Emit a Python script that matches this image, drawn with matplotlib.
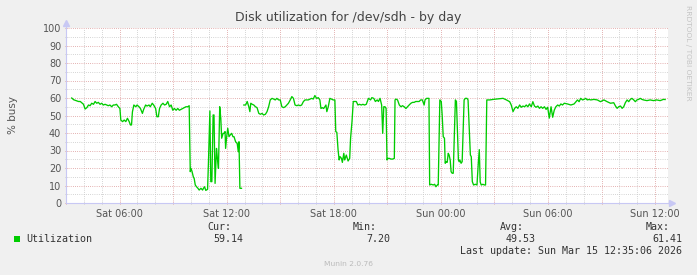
import numpy as np
import matplotlib
matplotlib.use("Agg")
import matplotlib.pyplot as plt

# hours since Sat 00:00
hours = [
    3.32, 3.43, 3.57, 3.70, 3.80, 3.91, 3.98, 4.07, 4.17, 4.26, 4.35, 4.44, 4.54, 4.63, 4.72, 4.81, 4.91, 5.00,
    5.09, 5.19, 5.28, 5.37, 5.46, 5.56, 5.65, 5.74, 5.83, 5.93, 6.02, 6.07, 6.17, 6.26, 6.35, 6.44, 6.54,
    6.61, 6.67, 6.72, 6.80, 6.91, 6.98, 7.09, 7.17, 7.28, 7.35, 7.46, 7.54, 7.65, 7.72, 7.83, 7.91, 8.02, 8.09,
    8.17, 8.24, 8.33, 8.43, 8.52, 8.61, 8.70, 8.80, 8.89, 8.98, 9.07, 9.17, 9.26, 9.35, 9.44, 9.54, 9.63, 9.72,
    9.82, 9.90,
    9.96, 10.00, 10.06, 10.13, 10.18, 10.24, 10.31, 10.39, 10.46, 10.56, 10.65, 10.70, 10.76, 10.83, 10.93,
    10.98, 11.06, 11.11, 11.17, 11.24, 11.29, 11.35, 11.43, 11.48, 11.54, 11.61, 11.67, 11.72, 11.80, 11.85,
    11.91, 11.94, 12.00, 12.06, 12.13, 12.20, 12.28, 12.35, 12.41, 12.50, 12.59, 12.65, 12.69, 12.74, 12.83,
    12.90,
    12.96, 13.06, 13.15, 13.24, 13.30, 13.35, 13.43, 13.52, 13.61, 13.70, 13.80, 13.89, 13.98, 14.07, 14.17,
    14.26, 14.35, 14.44, 14.54, 14.63, 14.72, 14.81, 14.91, 15.00, 15.09, 15.19, 15.28, 15.37, 15.46, 15.56,
    15.65, 15.74, 15.83, 15.93, 16.02, 16.11, 16.20, 16.30, 16.39, 16.48, 16.57,
    16.67, 16.76, 16.85, 16.94, 17.04, 17.13, 17.22, 17.28, 17.35, 17.43, 17.50, 17.56, 17.61, 17.69, 17.78,
    17.87, 17.96, 18.06, 18.11, 18.17, 18.24, 18.30, 18.35, 18.43, 18.48, 18.56, 18.61, 18.70, 18.80, 18.89,
    18.94, 19.02, 19.09, 19.17, 19.26, 19.35, 19.44, 19.54, 19.63, 19.72, 19.82,
    19.94, 20.06, 20.13, 20.24, 20.33, 20.43, 20.50, 20.59, 20.68, 20.74, 20.80, 20.87, 20.93, 20.98, 21.02,
    21.11, 21.20, 21.30, 21.39, 21.43, 21.48, 21.57, 21.67, 21.76, 21.85, 21.94, 22.04, 22.13, 22.22, 22.32,
    22.41, 22.50, 22.59, 22.69, 22.78, 22.87, 22.96, 23.06, 23.11, 23.20,
    23.33, 23.37, 23.46, 23.57, 23.65, 23.72, 23.80, 23.85, 23.94, 24.02, 24.07, 24.13, 24.20, 24.24, 24.30,
    24.35, 24.41, 24.46, 24.52, 24.57, 24.63, 24.69, 24.81, 24.87, 24.93, 24.98, 25.02, 25.06, 25.13, 25.19,
    25.30, 25.37, 25.46, 25.52, 25.57, 25.65, 25.70, 25.76, 25.83, 25.93, 26.02, 26.09, 26.15, 26.20, 26.26,
    26.35, 26.44, 26.50, 26.57,
    26.74, 26.93, 27.11, 27.30, 27.48, 27.67, 27.85, 27.94, 28.04, 28.13, 28.22, 28.31, 28.41, 28.50, 28.59,
    28.69, 28.78, 28.87, 28.96, 29.06, 29.15, 29.24, 29.33, 29.43, 29.52, 29.61, 29.70, 29.80, 29.89, 29.98,
    30.07, 30.17, 30.26, 30.35, 30.44, 30.54, 30.63, 30.72, 30.81, 30.91, 31.09, 31.28, 31.46, 31.65, 31.74,
    31.83, 31.93, 32.02, 32.11, 32.20, 32.30, 32.39, 32.57, 32.76, 32.94, 33.13, 33.31, 33.50, 33.68, 33.78,
    33.87, 33.96, 34.06, 34.15, 34.24, 34.33, 34.43, 34.52, 34.61, 34.70, 34.80, 34.89, 34.98, 35.07, 35.17,
    35.26, 35.35, 35.54, 35.72, 35.91, 36.09, 36.28, 36.46, 36.56,
]

busy = [
    60, 59, 58.5, 58, 58, 57, 56.4, 53.7, 54.5, 56, 55.6, 57, 56.4, 58, 57, 57.5, 56.4, 57,
    56, 56.4, 56, 55.6, 56, 55, 56, 56, 56.4, 55, 54, 47.4, 46.5, 47.4, 46.5, 48.4, 46.5,
    44.6, 44.6, 52, 56, 55, 56, 55, 54, 51.2, 53.5, 56, 55.4, 56, 55, 57, 56, 54, 49.3,
    49.3, 54, 56, 57, 56, 56.4, 58, 55, 56, 53, 54, 53, 54, 53, 53.5, 54, 54.5, 55,
    55, 55.6,
    17.9, 19.8, 18, 15, 14, 10.3, 9.3, 8.4, 7.4, 8.4, 7.4, 8.4, 9.3, 7.2, 7.8,
    23.6, 52.6, 12.2, 12.2, 50.3, 50.3, 11.2, 31.2, 25.5, 19.8, 55, 48.4, 37, 39.8, 39.8,
    40.8, 31.2, 37.9, 42.7, 37.9, 38.9, 39.8, 37.9, 37.9, 35, 34, 29.3, 35, 8.4, 8.4,
    np.nan,
    56, 56, 58, 55, 52.2, 57, 56.4, 56, 55, 54.5, 51.2, 50.7, 51.2, 50.3, 50.7,
    52.2, 55, 58.9, 59.8, 59.4, 58.9, 59.8, 58.9, 58.9, 55, 54.5, 55, 56, 57, 58.9,
    60.8, 59.8, 56, 55.6, 56, 55.6, 56, 58, 58.9, 58.9, 58.9,
    59.4, 59.8, 59.4, 61.4, 59.8, 60.2, 58.9, 54, 54.5, 54, 55, 56, 52.2, 55, 59.8,
    59.4, 58.9, 58.9, 40.8, 40.4, 30.3, 24.6, 26.5, 25.5, 23.2, 28.4, 24.6, 27.4, 24, 25.5,
    37, 46.5, 58, 58, 58, 56, 56.4, 56, 56.4, 56, 56.4,
    59.8, 58.9, 60.2, 59.8, 58, 58.9, 58, 59.8, 56, 39.8, 55, 55, 54, 24.6, 25.5,
    25.5, 25.1, 25.1, 25.5, 58.9, 59.4, 58.9, 56, 55, 55.6, 55, 54, 55, 56, 57,
    57.5, 57.5, 58, 58, 58, 58.9, 58.9, 56, 58.9, 59.8,
    59.8, 10.3, 10.7, 10.3, 10.7, 9.3, 10.3, 10.3, 58.9, 58, 50.3, 37.9, 37, 22.7, 23.6,
    23.2, 28.4, 27.4, 24.6, 17.9, 17, 17, 58.9, 58, 38.9, 24.6, 23.6, 24.6, 22.7, 23.6,
    58.9, 59.8, 59.8, 58.9, 46.5, 27.4, 26.5, 12.2, 10.3, 10.7, 10.3, 22, 30.5, 12, 10.3,
    10.7, 10.3, 10.3, 58.9,
    58.9, 59.2, 59.4, 59.6, 59.8, 58.9, 57.9, 56, 52.2, 54.1, 55, 54.1, 56, 54.7, 55.4,
    55, 56, 55, 56.6, 55, 57.9, 55.4, 54.7, 55.4, 54.1, 55, 54.1, 55, 53.5, 54.7,
    48.5, 55, 49, 53.1, 55, 56, 55.4, 56.6, 56, 57, 56.6, 56, 56.6, 58.9, 57.9,
    59.8, 58.9, 59.2, 59.8, 58.9, 59.2, 58.9, 59.2, 58.9, 57.9, 58.9, 57.9, 57, 57.3, 55.4,
    54.1, 55, 55.4, 54.1, 55, 57.3, 58.9, 57.9, 59.2, 59.8, 58.9, 57.9, 58.9, 59.2, 59.8,
    59.2, 58.9, 58.5, 58.9, 58.5, 58.9, 58.5, 59.2, 59.14,
]

tick_hours = [6, 12, 18, 24, 30, 36]
tick_labels = ["Sat 06:00", "Sat 12:00", "Sat 18:00", "Sun 00:00", "Sun 06:00", "Sun 12:00"]
stat_names = ["Cur:", "Min:", "Avg:", "Max:"]
stat_values = ["59.14", "7.20", "49.53", "61.41"]

W, H = 697, 275
green = "#00cc00"
axis_blue = "#c8c8f4"
mgrid = "#dc9a9a"
grid = "#c8c8c8"
txt = "#555555"

fig = plt.figure(figsize=(W / 100, H / 100), dpi=100, facecolor="#f0f0f0")
ax = fig.add_axes([66 / W, 1 - 203 / H, 602 / W, 175 / H], facecolor="white")

ax.plot(hours, busy, color=green, lw=0.95, zorder=3)

ax.set_xlim(3.278, 36.72)
ax.set_ylim(0, 100)

# x: red every 3h, grey every hour, labels every 6h
maj = np.arange(3, 37, 3)
ax.set_xticks(maj)
ax.set_xticklabels([tick_labels[tick_hours.index(m)] if m in tick_hours else "" for m in maj])
ax.set_xticks(np.arange(4, 37, 1), minor=True)
ax.set_yticks(np.arange(0, 101, 10))
ax.set_yticks(np.arange(5, 100, 10), minor=True)

dots = (0, (0.72, 1.44))
ax.grid(which="major", color=mgrid, linestyle=dots, lw=0.72, zorder=1)
ax.grid(which="minor", color=grid, linestyle=dots, lw=0.72, zorder=1)
ax.set_axisbelow(True)

ax.tick_params(which="major", length=2, width=0.7, color=mgrid, labelsize=7,
               labelcolor=txt, pad=2.5, direction="inout")
ax.tick_params(which="minor", length=2, width=0.7, color=grid, direction="inout")
ax.tick_params(axis="x", pad=3)

for s in ("top", "right"):
    ax.spines[s].set_visible(False)
for s in ("left", "bottom"):
    ax.spines[s].set_color(axis_blue)
    ax.spines[s].set_linewidth(0.8)

# axis extensions with arrowheads
ax.plot([0, 0], [1.0, 1.03], color=axis_blue, lw=0.8, transform=ax.transAxes, clip_on=False)
ax.plot([0], [1.03], marker="^", ms=4, color=axis_blue, transform=ax.transAxes, clip_on=False)
ax.plot([1.0, 1.007], [0, 0], color=axis_blue, lw=0.8, transform=ax.transAxes, clip_on=False)
ax.plot([1.007], [0], marker=">", ms=4, color=axis_blue, transform=ax.transAxes, clip_on=False)


def px(x, y):
    return x / W, 1 - y / H


fig.text(*px(348, 18), "Disk utilization for /dev/sdh - by day", ha="center", va="center",
         fontsize=9, color="#444444")
fig.text(*px(13, 115), "% busy", ha="center", va="center", rotation=90, fontsize=7.5, color=txt)
fig.text(*px(688, 53), "RRDTOOL / TOBI OETIKER", ha="center", va="center", rotation=-90,
         fontsize=5.4, color="#c4c4c4")

mono = "DejaVu Sans Mono"
fig.patches.append(plt.Rectangle(px(14, 242), 6 / W, 6 / H, transform=fig.transFigure,
                                 facecolor=green, edgecolor="none"))
fig.text(*px(26, 239), "Utilization", ha="left", va="center", family=mono, fontsize=7.2, color="#333333")
name_right = [231, 377, 524, 670]
val_right = [243.5, 390, 536, 682]
for n, v, xn, xv in zip(stat_names, stat_values, name_right, val_right):
    fig.text(*px(xn, 227.5), n, ha="right", va="center", family=mono, fontsize=7.2, color="#333333")
    fig.text(*px(xv, 239.5), v, ha="right", va="center", family=mono, fontsize=7.2, color="#333333")
fig.text(*px(682, 251.5), "Last update: Sun Mar 15 12:35:06 2026", ha="right", va="center",
         family=mono, fontsize=7.2, color="#333333")
fig.text(*px(348, 264), "Munin 2.0.76", ha="center", va="center", fontsize=5.4, color="#bbbbbb")

fig.savefig("out.png", dpi=100, facecolor=fig.get_facecolor())
